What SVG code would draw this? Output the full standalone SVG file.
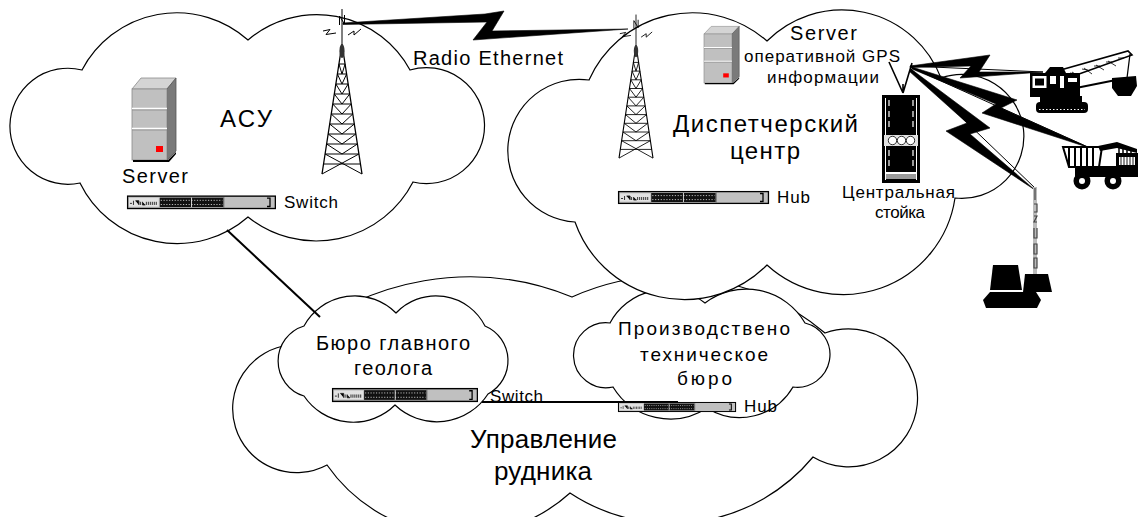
<svg xmlns="http://www.w3.org/2000/svg" xmlns:xlink="http://www.w3.org/1999/xlink" width="1138" height="517" viewBox="0 0 1138 517">
  <style>
    .cloud { fill: #fff; stroke: #000; stroke-width: 1.2; }
    .t { font-family: 'Liberation Sans', Arial, sans-serif; fill: #000; }
    .link { fill: none; stroke: #000; stroke-width: 2; }
    .bolt { fill: #000; stroke: #000; stroke-width: 0.6; stroke-linejoin: miter; }
    .thin { fill: none; stroke: #000; stroke-width: 1; }
  </style>
  <defs>
    <!-- rack-mount switch / hub -->
    <g id="sw">
      <rect x="0.6" y="0.6" width="148.8" height="11.8" fill="#c0c0c0" stroke="#000" stroke-width="1.3"/>
      <rect x="2" y="2.4" width="30" height="8.2" fill="#e2e2e2"/>
      <path d="M3,7.5h2M6.5,5v4M8.5,5h3.5v4M13.5,6v3M15.5,6v3h3M19.5,6v3M21.5,6v3M23.5,6v3M25.5,6v3M27.5,6v3M29.5,6v3" stroke="#222" stroke-width="0.9"/>
      <rect x="33" y="2" width="64" height="9" fill="#111"/>
      <path d="M34,4.6H96M34,8.6H96" stroke="#fff" stroke-width="0.7" stroke-dasharray="1.2 1.6"/>
      <path d="M65,2v9" stroke="#fff" stroke-width="0.8"/>
      <path d="M97.5,1.5v10" stroke="#555" stroke-width="0.8"/>
      <path d="M141,2.5h3v8h-3" fill="none" stroke="#000" stroke-width="1.3"/>
    </g>
    <!-- tower server -->
    <g id="srv">
      <path d="M0,0 L9,-11 H44 L35,0 Z" fill="#d4d4d4" stroke="#8a8a8a" stroke-width="0.8"/>
      <path d="M35,0 L44,-11 V62 L35,71 Z" fill="#7a7a7a" stroke="#555" stroke-width="0.8"/>
      <rect x="0" y="0" width="35" height="71" fill="#c0c0c0" stroke="#8a8a8a" stroke-width="0.8"/>
      <path d="M0,19.5H35M0,39.5H35" stroke="#fff" stroke-width="1.6"/>
      <path d="M0,21H35M0,41H35" stroke="#8a8a8a" stroke-width="0.8"/>
      <rect x="24" y="57" width="7" height="6" fill="#f00"/>
      <path d="M1,71 H36 L44,63 V65 L37,73 H1 Z" fill="#000"/>
    </g>
    <!-- lattice radio mast, apex at origin -->
    <g id="tower" fill="none" stroke="#000" stroke-width="1">
      <path d="M0,-35V0"/>
      <path d="M-2.5,-19V-28L2.5,-20V-29"/>
      <path d="M-19,-13L-12,-14.5L-16,-9.5L-6,-11"/>
      <path d="M6,-9L12,-13L12,-9L19,-15"/>
      <path d="M-20,130L0,0L20,130" stroke-width="1.3"/>
      <ellipse cx="0" cy="7" rx="2.6" ry="7" fill="#333" stroke="none"/>
      <path d="M-3.08,20H3.08M-4.62,30H4.62M-6.15,40H6.15M-7.69,50H7.69M-9.23,60H9.23M-10.77,70H10.77M-12.31,80H12.31M-13.85,90H13.85M-15.38,100H15.38M-16.92,110H16.92M-18.46,120H18.46"/>
      <path d="M-3.08,20L0,30L3.08,20M-4.62,30L0,40L4.62,30M-6.15,40L0,50L6.15,40M-7.69,50L0,60L7.69,50M-9.23,60L0,70L9.23,60M-10.77,70L0,80L10.77,70M-12.31,80L0,90L12.31,80M-13.85,90L0,100L13.85,90M-15.38,100L0,110L15.38,100"/>
      <path d="M-20,130L16.92,110M20,130L-16.92,110"/>
    </g>
  </defs>

  <!-- mine management cloud with its two sub-clouds -->
  <g id="cloud-mine-mgmt">
    <path class="cloud" d="M290,345 A271,271 0 0 1 572,297 A240,240 0 0 1 825,333 A69,69 0 1 1 813,457 A184,184 0 0 1 570,493 A163,163 0 0 1 327,465 A64,64 0 1 1 290,345 Z"/>
    <text class="t" x="470" y="448" font-size="26" textLength="147" lengthAdjust="spacing">Управление</text>
    <text class="t" x="494" y="480" font-size="26" textLength="98" lengthAdjust="spacing">рудника</text>
  </g>
  <g id="cloud-geology">
    <path class="cloud" d="M304,326 A58,58 0 0 1 396,313 A55,55 0 0 1 485,326 A37.7,37.7 0 0 1 488,394 A60.8,60.8 0 0 1 395,405 A59.3,59.3 0 0 1 304,396 A36.6,36.6 0 0 1 304,326 Z"/>
    <text class="t" x="316" y="350" font-size="20" textLength="154" lengthAdjust="spacing">Бюро главного</text>
    <text class="t" x="354" y="375" font-size="20" textLength="78" lengthAdjust="spacing">геолога</text>
  </g>
  <g id="cloud-tech-bureau">
    <path class="cloud" d="M610,323 A63.4,63.4 0 0 1 705,303 A68,68 0 0 1 805,323 A32.6,32.6 0 0 1 793,387 A61.5,61.5 0 0 1 707,408 A67,67 0 0 1 613,387 A32.5,32.5 0 1 1 610,323 Z"/>
    <text class="t" x="618" y="335" font-size="19" textLength="172" lengthAdjust="spacing">Производствено</text>
    <text class="t" x="640" y="361" font-size="19" textLength="128" lengthAdjust="spacing">техническое</text>
    <text class="t" x="677" y="385" font-size="19" textLength="55" lengthAdjust="spacing">бюро</text>
  </g>

  <!-- ASU cloud -->
  <g id="cloud-asu">
    <path class="cloud" d="M82,70 A107,107 0 0 1 248,40 A106,106 0 0 1 410,70 A58,58 0 1 1 413,182 A109,109 0 0 1 248,217 A108,108 0 0 1 80,183 A58,58 0 1 1 82,70 Z"/>
    <text class="t" x="220" y="127" font-size="24" textLength="52" lengthAdjust="spacing">АСУ</text>
  </g>

  <!-- dispatch centre cloud -->
  <g id="cloud-dispatch">
    <path class="cloud" d="M589,80 A113,113 0 0 1 767,41 A106,106 0 0 1 941,78 A62,62 0 1 1 955,198 A113,113 0 0 1 767,265 A116,116 0 0 1 575,222 A71.4,71.4 0 1 1 589,80 Z"/>
    <text class="t" x="673" y="132" font-size="24" textLength="185" lengthAdjust="spacing">Диспетчерский</text>
    <text class="t" x="730" y="159" font-size="24" textLength="70" lengthAdjust="spacing">центр</text>
  </g>

  <!-- links -->
  <g id="connectors">
    <path class="link" d="M227,230 L320,317"/>
    <path class="link" d="M482,402 H678" stroke-width="1.8"/>
    <!-- radio ethernet bolt between masts -->
    <path class="bolt" d="M343,23 L485,14 L504,11 L492,31 L628,29 L473,40 L487,22 L343,24.5 Z"/>
    <!-- GPS radio bolts to mobile units -->
    <path class="bolt" d="M910,66 L990,55 L979,72 L1043,72 L960,78 L971,66 L910,67.5 Z"/>
    <path class="bolt" d="M912,67 L1017,100 L1001,108 L1090,148 L982,113 L996,104 L912,69 Z"/>
    <path class="bolt" d="M911,69 L990,128 L970,134 L1035,190 L946,131 L967,123 L909,71 Z"/>
    <path class="thin" d="M910,66 L1043,72M910,67 L1090,148M910,68 L1035,188" stroke-width="0.5"/>
  </g>

  <!-- ASU equipment -->
  <g id="server-asu">
    <use xlink:href="#srv" transform="translate(132,89)"/>
    <text class="t" x="122" y="183" font-size="20" textLength="66" lengthAdjust="spacing">Server</text>
  </g>
  <g id="switch-asu">
    <use xlink:href="#sw" transform="translate(127,195.5) scale(0.993,1.05)"/>
    <text class="t" x="284" y="208" font-size="17" textLength="54" lengthAdjust="spacing">Switch</text>
  </g>
  <g id="tower-asu">
    <use xlink:href="#tower" transform="translate(342,44)"/>
  </g>
  <g id="radio-label">
    <text class="t" x="413" y="65" font-size="20" textLength="150" lengthAdjust="spacing">Radio Ethernet</text>
  </g>

  <!-- dispatch centre equipment -->
  <g id="tower-dispatch">
    <use xlink:href="#tower" transform="translate(636,45) scale(0.85,0.87)"/>
  </g>
  <g id="server-gps">
    <use xlink:href="#srv" transform="translate(704,34) scale(0.8,0.69)"/>
    <text class="t" x="790" y="40" font-size="20" textLength="67" lengthAdjust="spacing">Server</text>
    <text class="t" x="744" y="62" font-size="17" textLength="156" lengthAdjust="spacing">оперативной GPS</text>
    <text class="t" x="767" y="82.5" font-size="17" textLength="112" lengthAdjust="spacing">информации</text>
  </g>
  <g id="hub-dispatch">
    <use xlink:href="#sw" transform="translate(618,191) scale(1.007,1)"/>
    <text class="t" x="777" y="203" font-size="17" textLength="33" lengthAdjust="spacing">Hub</text>
  </g>
  <g id="rack-central">
    <path d="M903,93 L889,62 M903,93 L912,63 M903,93 V84" fill="none" stroke="#000" stroke-width="1.6"/>
    <rect x="882" y="95" width="38" height="88" fill="#000"/>
    <path d="M885.5,98V180M916.5,98V180" stroke="#fff" stroke-width="1"/>
    <path d="M889,100v6M889,111v6M889,121v6M889,150v6M889,160v6M913,100v6M913,111v6M913,121v6M913,150v6M913,160v6" stroke="#fff" stroke-width="1.2"/>
    <rect x="884" y="135" width="34" height="11" fill="#e0e0e0"/>
    <circle cx="892.5" cy="140.5" r="4.2" fill="#fff" stroke="#000" stroke-width="0.8"/>
    <circle cx="901.5" cy="140.5" r="4.2" fill="#fff" stroke="#000" stroke-width="0.8"/>
    <circle cx="910.5" cy="140.5" r="4.2" fill="#fff" stroke="#000" stroke-width="0.8"/>
    <rect x="885" y="172" width="32" height="7" fill="#fff"/>
    <path d="M887,174v5M889,174v5M891,174v5M893,174v5M895,174v5M897,174v5M899,174v5M901,174v5M903,174v5M905,174v5M907,174v5M909,174v5M911,174v5M913,174v5M915,174v5" stroke="#000" stroke-width="0.8"/>
    <text class="t" x="842" y="198" font-size="17" textLength="113" lengthAdjust="spacing">Центральная</text>
    <text class="t" x="875" y="218" font-size="17" textLength="50" lengthAdjust="spacing">стойка</text>
  </g>

  <!-- mobile units -->
  <g id="excavator">
    <path d="M1050,73 L1128,51 L1132,55 L1054,83 Z" fill="none" stroke="#000" stroke-width="1.6"/>
    <path d="M1058,77 L1066,76 M1070,73 L1076,74 M1082,69 L1088,70 M1094,66 L1100,66 M1106,62 L1112,62 M1118,58 L1124,58 M1060,76L1068,80M1072,72L1080,77M1084,68L1092,74M1096,65L1104,70M1108,61L1116,66" stroke="#000" stroke-width="0.8"/>
    <path d="M1130,54 L1127,78" stroke="#000" stroke-width="1.2"/>
    <path d="M1076,88 L1116,80" stroke="#000" stroke-width="2"/>
    <path d="M1112,78 L1136,76 L1137,86 L1131,96 L1118,96 L1112,88 Z" fill="#000"/>
    <path d="M1045,73 L1050,67 H1063 L1066,73 Z" fill="#000"/>
    <rect x="1030" y="73" width="50" height="24" fill="#000"/>
    <rect x="1032.5" y="76" width="14" height="12" fill="#fff"/>
    <rect x="1035" y="78.5" width="9" height="7" fill="#000"/>
    <rect x="1050" y="76" width="6" height="8" fill="#fff"/>
    <rect x="1060" y="76" width="4" height="12" fill="#fff"/>
    <rect x="1068" y="78" width="9" height="4" fill="#fff"/>
    <rect x="1040" y="96" width="42" height="7" fill="#000"/>
    <rect x="1036" y="102" width="52" height="11" rx="4" fill="#000"/>
    <path d="M1039,109.5H1085" stroke="#fff" stroke-width="1.2" stroke-dasharray="1.5 2"/>
  </g>
  <g id="truck">
    <path d="M1063,147 L1102,147 L1099,167 L1069,167 Z" fill="#fff" stroke="#000" stroke-width="2"/>
    <path d="M1069,148V166M1075,148V166M1081,148V166M1087,148V166M1093,148V166" stroke="#000" stroke-width="2"/>
    <path d="M1098,146 L1117,142 L1137,149 L1137,153 L1117,148 L1100,151 Z" fill="#000"/>
    <path d="M1119,147V155M1123,148V156M1127,149V157M1131,150V158" stroke="#000" stroke-width="1.5"/>
    <rect x="1116" y="153" width="22" height="19" fill="#000"/>
    <rect x="1119" y="157" width="16" height="8" fill="#fff"/>
    <path d="M1121,157v8M1124,157v8M1127,157v8M1130,157v8M1133,157v8" stroke="#000" stroke-width="0.9"/>
    <rect x="1075" y="166" width="63" height="11" fill="#000"/>
    <circle cx="1082" cy="181" r="8.5" fill="#000"/>
    <circle cx="1082" cy="181" r="3" fill="#fff"/>
    <circle cx="1113" cy="181" r="8.5" fill="#000"/>
    <circle cx="1113" cy="181" r="3" fill="#fff"/>
  </g>
  <g id="drill-rig">
    <rect x="1033" y="187" width="4" height="88" fill="#bbb"/>
    <path d="M1035,188V200M1034,204h3v8h-3M1034,216h3l-3,6h3M1034,228v10h3v-10M1034,244h3v10h-3zM1034,258h3v10h-3z" fill="none" stroke="#444" stroke-width="1.2"/>
    <path d="M993,265 L1018,265 L1022,290 L990,290 Z" fill="#000"/>
    <path d="M1025,274 L1048,274 L1052,292 L1023,292 Z" fill="#000"/>
    <path d="M990,292 L1036,292 L1041,300 L1037,308 L986,308 L983,300 Z" fill="#000"/>
  </g>

  <!-- mine management equipment -->
  <g id="switch-geology">
    <use xlink:href="#sw" transform="translate(332,388) scale(0.973,1.08)"/>
    <text class="t" x="490" y="402" font-size="17" textLength="53" lengthAdjust="spacing">Switch</text>
  </g>
  <g id="hub-tech">
    <use xlink:href="#sw" transform="translate(618,402) scale(0.787,0.77)"/>
    <text class="t" x="744" y="412" font-size="17" textLength="33" lengthAdjust="spacing">Hub</text>
  </g>
</svg>
